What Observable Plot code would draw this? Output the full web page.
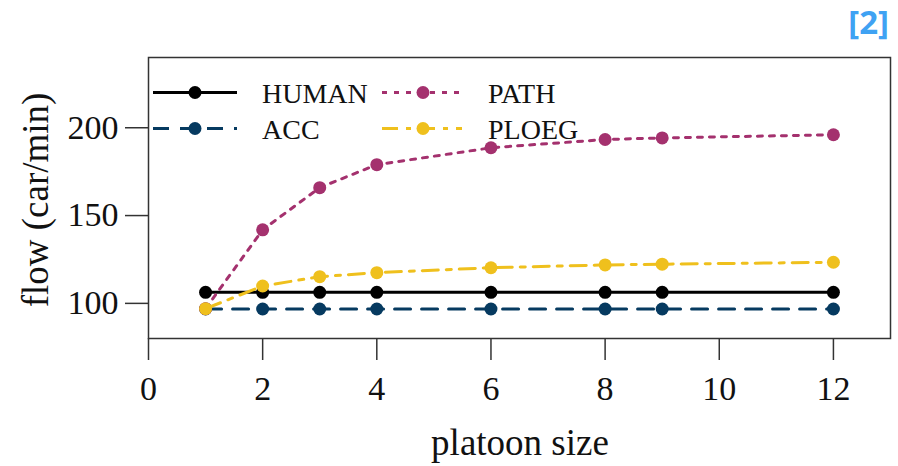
<!DOCTYPE html>
<html><head><meta charset="utf-8">
<script src="https://cdn.jsdelivr.net/npm/d3@7"></script>
<script src="https://cdn.jsdelivr.net/npm/@observablehq/plot@0.6"></script>
<style>
html,body{margin:0;padding:0;background:#fff;}
#wrap{position:relative;width:898px;height:466px;}
#tag{position:absolute;right:9px;top:0px;font-family:"Open Sans";font-weight:bold;font-size:33px;color:#3fa2f3;line-height:44px;}
</style></head><body><div id="wrap"><div id="tag">[2]</div></div>
<script>
const sizes = [1, 2, 3, 4, 6, 8, 9, 12];
const seriesNames = ["HUMAN", "ACC", "PATH", "PLOEG"];
const human = [106.3, 106.3, 106.3, 106.3, 106.3, 106.3, 106.3, 106.3];
const acc = [96.8, 96.8, 96.8, 96.8, 96.8, 96.8, 96.8, 96.8];
const path = [97, 141.9, 165.9, 179, 188.6, 193.3, 194.2, 196];
const ploeg = [97, 109.9, 115.2, 117.5, 120.3, 121.9, 122.3, 123.4];
const xTicks = [0, 2, 4, 6, 8, 10, 12];
const yTicks = [100, 150, 200];
const xLabel = "platoon size";
const yLabel = "flow (car/min)";

const colors = ["#000000", "#063a60", "#a4316e", "#efc01d"];
const dashes = [null, "16,11", "5,7", "16,8,5,8"];
const valueLists = [human, acc, path, ploeg];

const rows = [];
seriesNames.forEach((s, i) => sizes.forEach((x, j) => rows.push({series: s, size: x, flow: valueLists[i][j]})));

const seriesMarks = [];
seriesNames.forEach((s, i) => {
  const d = rows.filter(r => r.series === s);
  seriesMarks.push(Plot.line(d, {x: "size", y: "flow", stroke: colors[i], strokeWidth: 3, strokeDasharray: dashes[i]}));
  seriesMarks.push(Plot.dot(d, {x: "size", y: "flow", fill: colors[i], r: 6.5}));
});

const plot = Plot.plot({
  width: 898, height: 466,
  marginLeft: 148, marginRight: 8, marginTop: 57, marginBottom: 128,
  style: {fontFamily: "'Liberation Serif', serif", fontSize: "34px", color: "#111", background: "#fff"},
  x: {domain: [0, 13]},
  y: {domain: [80, 240]},
  marks: [
    Plot.axisX({ticks: xTicks, tickSize: 22, tickPadding: 15, label: null, strokeWidth: 1.5, stroke: "#333"}),
    Plot.axisY({ticks: yTicks, tickSize: 23, tickPadding: 7, label: null, strokeWidth: 1.5, stroke: "#333"}),
    ...seriesMarks,
    Plot.frame({stroke: "#333", strokeWidth: 1.5})
  ]
});
document.getElementById("wrap").prepend(plot);

const svg = d3.select(plot);
svg.append("text").attr("x", 520).attr("y", 455).attr("text-anchor", "middle")
  .attr("font-family", "'Liberation Serif', serif").attr("font-size", 37).attr("fill", "#111").text(xLabel);
svg.append("text").attr("transform", "translate(48,200) rotate(-90)").attr("text-anchor", "middle")
  .attr("font-family", "'Liberation Serif', serif").attr("font-size", 37).attr("fill", "#111").text(yLabel);

// legend (inside frame, top-left)
const legPos = [
  {x0: 153, x1: 237, xm: 195, xt: 262, y: 92.5},
  {x0: 153, x1: 237, xm: 195, xt: 262, y: 128.5},
  {x0: 382, x1: 462, xm: 423, xt: 488, y: 92.5},
  {x0: 382, x1: 462, xm: 423, xt: 488, y: 128.5}
];
const leg = svg.append("g");
seriesNames.forEach((s, i) => {
  const p = legPos[i];
  leg.append("line").attr("x1", p.x0).attr("x2", p.x1).attr("y1", p.y).attr("y2", p.y)
    .attr("stroke", colors[i]).attr("stroke-width", 3).attr("stroke-dasharray", dashes[i]);
  leg.append("circle").attr("cx", p.xm).attr("cy", p.y).attr("r", 6.5).attr("fill", colors[i]);
  leg.append("text").attr("x", p.xt).attr("y", p.y + 10.5).attr("text-anchor", "start")
    .attr("font-family", "'Liberation Serif', serif").attr("font-size", 28).attr("fill", "#111").text(s);
});
</script></body></html>
